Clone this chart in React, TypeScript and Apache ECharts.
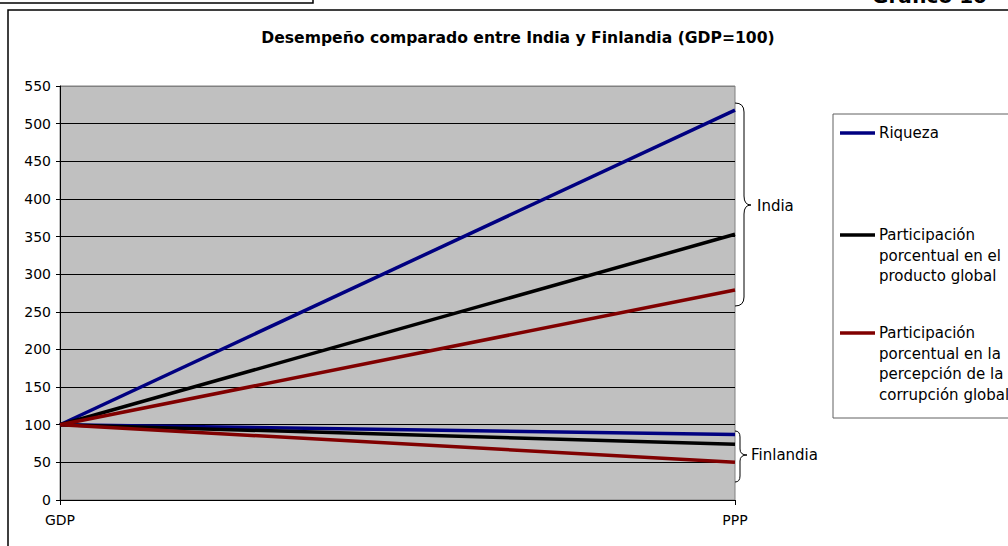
import React, { useEffect, useRef } from "react";
import * as echarts from "echarts";

const categories = ["GDP", "PPP"];
const nameRiqueza = "Riqueza";
const nameProducto = "Participación porcentual en el producto global";
const nameCorrupcion = "Participación porcentual en la percepción de la corrupción global";

const indiaRiqueza = [100, 518];
const indiaProducto = [100, 353];
const indiaCorrupcion = [100, 279];
const finlandiaRiqueza = [100, 87];
const finlandiaProducto = [100, 74];
const finlandiaCorrupcion = [100, 50];

const yTicks = [0, 50, 100, 150, 200, 250, 300, 350, 400, 450, 500, 550];

const legendLabels = [
  ["Riqueza"],
  ["Participación", "porcentual en el", "producto global"],
  ["Participación", "porcentual en la", "percepción de la", "corrupción global"],
];

const BLUE = "#000080";
const BLACK = "#000000";
const RED = "#800000";
const FONT = '"DejaVu Sans", sans-serif';

function bracePath(x0: number, top: number, bottom: number, tipY: number, xv: number, xt: number, r: number) {
  return `M${x0},${top} Q${xv},${top} ${xv},${top + r} L${xv},${tipY - r} Q${xv},${tipY} ${xt},${tipY} Q${xv},${tipY} ${xv},${tipY + r} L${xv},${bottom - r} Q${xv},${bottom} ${x0},${bottom}`;
}

let registered = false;
function registerShapes() {
  if (registered) return;
  registered = true;
  echarts.graphic.registerShape(
    "braceIndia",
    echarts.graphic.extendPath(bracePath(735, 103, 306, 205, 744, 751, 9), {})
  );
  echarts.graphic.registerShape(
    "braceFin",
    echarts.graphic.extendPath(bracePath(735, 431, 482, 455, 740, 747, 6), {})
  );
}

export default function App() {
  const ref = useRef<HTMLDivElement>(null);
  useEffect(() => {
    if (!ref.current) return;
    registerShapes();
    const chart = echarts.init(ref.current, undefined, { renderer: "svg" });

    const lineSeries = (name: string, data: number[], color: string) => ({
      type: "line",
      name,
      data,
      symbol: "none",
      lineStyle: { color, width: 3.5 },
      itemStyle: { color },
      z: 3,
    });

    const splitColors = yTicks.map((v, i) => (i === yTicks.length - 1 ? "#808080" : "#000000"));

    const legendColors = [BLUE, BLACK, RED];
    const legendY = [133, 235, 333];
    const legendGraphics: any[] = [];
    legendLabels.forEach((lines, i) => {
      legendGraphics.push({
        type: "line",
        shape: { x1: 840, y1: legendY[i], x2: 875, y2: legendY[i] },
        style: { stroke: legendColors[i], lineWidth: 3.5 },
        z: 10,
      });
      legendGraphics.push({
        type: "text",
        x: 879,
        y: legendY[i] - 10.35,
        style: {
          text: lines.join("\n"),
          fontSize: 15,
          fontFamily: FONT,
          fill: "#000",
          lineHeight: 20.7,
          verticalAlign: "top",
          align: "left",
        },
        z: 10,
      });
    });

    chart.setOption({
      animation: false,
      backgroundColor: "#ffffff",
      title: {
        text: "Desempeño comparado entre India y Finlandia (GDP=100)",
        left: 513,
        top: 25,
        textAlign: "center",
        textStyle: { fontFamily: FONT, fontWeight: "bold", fontSize: 15.6, color: "#000" },
      },
      grid: {
        left: 60,
        right: 273,
        top: 86,
        bottom: 46,
        show: true,
        backgroundColor: "#c0c0c0",
        borderColor: "#808080",
        borderWidth: 1,
      },
      xAxis: {
        type: "category",
        data: categories,
        boundaryGap: false,
        axisLine: { show: true, lineStyle: { color: "#000", width: 1 } },
        axisTick: { show: true, length: 5, lineStyle: { color: "#000" } },
        axisLabel: { fontFamily: FONT, fontSize: 14, color: "#000", margin: 13 },
        splitLine: { show: false },
        z: 5,
      },
      yAxis: {
        type: "value",
        min: 0,
        max: 550,
        interval: 50,
        axisLine: { show: true, lineStyle: { color: "#000", width: 1 } },
        axisTick: { show: true, length: 4, lineStyle: { color: "#000" } },
        axisLabel: { fontFamily: FONT, fontSize: 14, color: "#000", margin: 9 },
        splitLine: { show: true, lineStyle: { color: splitColors, width: 1 } },
        z: 2,
      },
      legend: { show: false },
      series: [
        lineSeries(nameRiqueza, finlandiaRiqueza, BLUE),
        lineSeries(nameProducto, finlandiaProducto, BLACK),
        lineSeries(nameCorrupcion, finlandiaCorrupcion, RED),
        lineSeries(nameRiqueza, indiaRiqueza, BLUE),
        lineSeries(nameProducto, indiaProducto, BLACK),
        lineSeries(nameCorrupcion, indiaCorrupcion, RED),
      ],
      graphic: [
        {
          type: "polyline",
          shape: { points: [[0, 3], [313, 3], [313, 0]] },
          style: { stroke: "#000", lineWidth: 1.5, fill: "none" },
        },
        {
          type: "rect",
          shape: { x: 8, y: 10, width: 1100, height: 700 },
          style: { stroke: "#000", lineWidth: 1.5, fill: "none" },
        },
        {
          type: "text",
          x: 872,
          y: 6,
          style: {
            text: "Gráfico 10",
            fontSize: 20,
            fontWeight: "bold",
            fontFamily: FONT,
            fill: "#000",
            verticalAlign: "bottom",
            align: "left",
          },
        },
        {
          type: "rect",
          shape: { x: 833, y: 114, width: 300, height: 304 },
          style: { stroke: "#606060", lineWidth: 1, fill: "#fff" },
          z: 9,
        },
        ...legendGraphics,
        { type: "braceIndia", style: { stroke: "#000", lineWidth: 1, fill: "none" } },
        { type: "braceFin", style: { stroke: "#000", lineWidth: 1, fill: "none" } },
        {
          type: "text",
          x: 757,
          y: 206,
          style: { text: "India", fontSize: 15, fontFamily: FONT, fill: "#000", verticalAlign: "middle" },
        },
        {
          type: "text",
          x: 751,
          y: 455,
          style: { text: "Finlandia", fontSize: 15, fontFamily: FONT, fill: "#000", verticalAlign: "middle" },
        },
      ],
    });
    return () => chart.dispose();
  }, []);

  return (
    <div
      ref={ref}
      style={{ position: "fixed", left: 0, top: 0, width: 1008, height: 546 }}
    />
  );
}
